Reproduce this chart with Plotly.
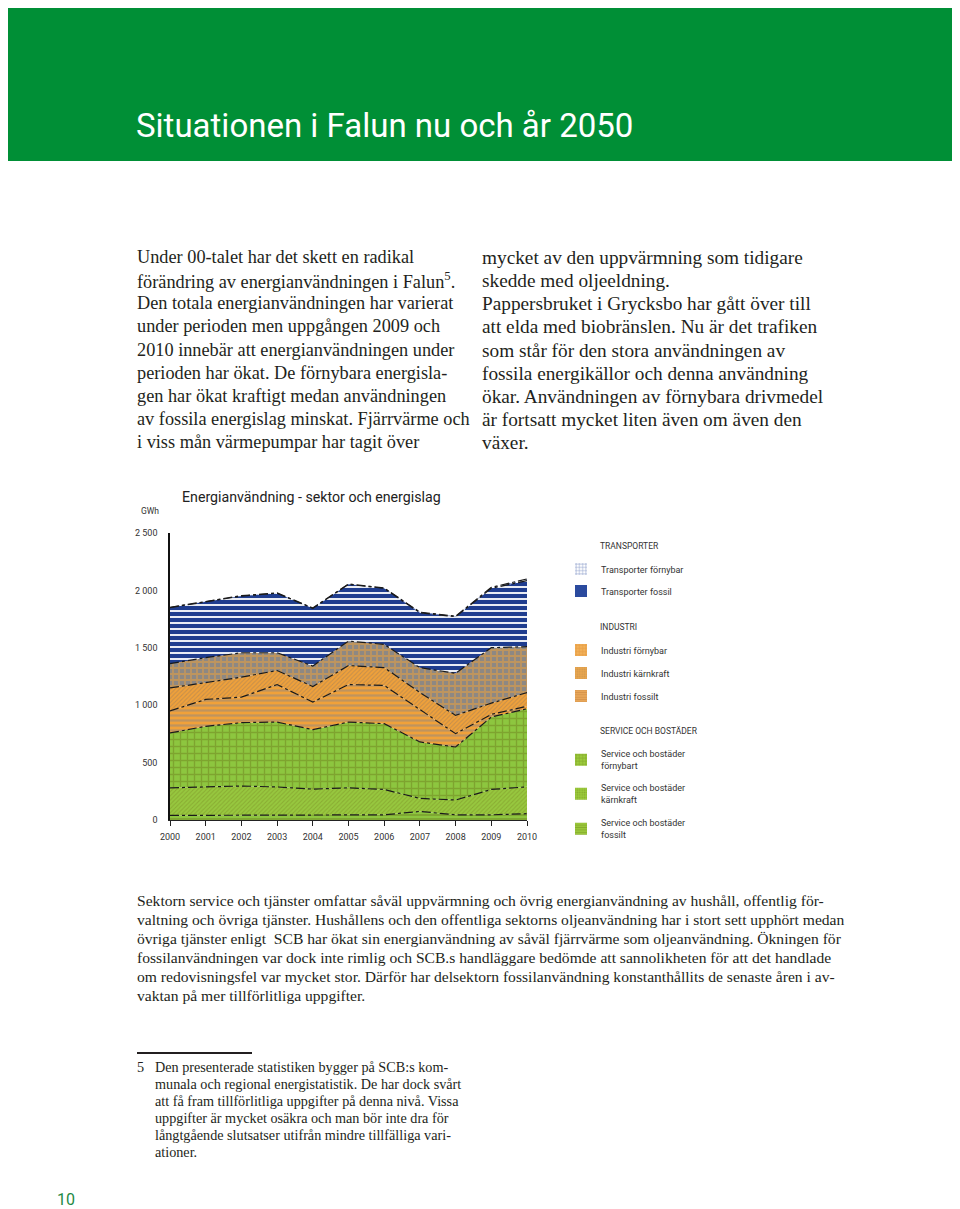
import plotly.graph_objects as go

# ---------------- data ----------------
years = list(range(2000, 2011))
service_fossilt = [40, 40, 40, 40, 45, 45, 45, 75, 45, 45, 55]
service_karnkraft = [240, 249, 256, 248, 224, 235, 221, 113, 129, 221, 234]
service_fornybart = [478, 527, 552, 565, 518, 573, 573, 492, 462, 631, 680]
industri_fossilt = [192, 234, 222, 327, 240, 327, 333, 285, 116, 23, 21]
industri_karnkraft = [200, 150, 174, 122, 136, 165, 156, 145, 159, 98, 120]
industri_fornybar = [212, 214, 213, 155, 178, 214, 202, 217, 367, 483, 400]
transporter_fossil = [488, 488, 494, 518, 503, 494, 488, 479, 493, 517, 575]
transporter_fornybar = [3, 3, 3, 3, 3, 3, 3, 5, 5, 8, 15]

ytick_vals = [0, 500, 1000, 1500, 2000, 2500]
ytick_text = ["0", "500", "1 000", "1 500", "2 000", "2 500"]

# ---------------- styles ----------------
GREEN_BG = "#8dc63f"
GREEN_FG = "#6f8120"
ORANGE = "#f0a13a"
GREY = "#8d8883"
BLUE = "#1f3d8f"

layers = [
    ("Service och bostäder<br>fossilt", service_fossilt,
     dict(shape="-", fgcolor=GREEN_FG, bgcolor=GREEN_BG, size=4, solidity=0.45)),
    ("Service och bostäder<br>kärnkraft", service_karnkraft,
     dict(shape="/", fgcolor="#7d9226", bgcolor="#97c83f", size=3, solidity=0.35)),
    ("Service och bostäder<br>förnybart", service_fornybart,
     dict(shape="+", fgcolor=GREEN_FG, bgcolor=GREEN_BG, size=7, solidity=0.35)),
    ("Industri fossilt", industri_fossilt,
     dict(shape="-", fgcolor=GREY, bgcolor=ORANGE, size=5, solidity=0.45)),
    ("Industri kärnkraft", industri_karnkraft,
     dict(shape="/", fgcolor="#9c7d5c", bgcolor=ORANGE, size=3, solidity=0.35)),
    ("Industri förnybar", industri_fornybar,
     dict(shape="+", fgcolor=ORANGE, bgcolor=GREY, size=6, solidity=0.5)),
    ("Transporter fossil", transporter_fossil,
     dict(shape="-", fgcolor=BLUE, bgcolor="white", size=6, solidity=0.7, fgopacity=1)),
    ("Transporter förnybar", transporter_fornybar,
     dict(shape="+", fgcolor=BLUE, bgcolor="white", size=6, solidity=0.3, fgopacity=1)),
]

fig = go.Figure()
for name, vals, pat in layers:
    fig.add_trace(go.Scatter(
        x=years, y=vals, name=name, stackgroup="one", mode="lines",
        line=dict(color="#1a1a1a", width=1.2, dash="dashdot"),
        fillpattern=pat, fillcolor=pat["bgcolor"], showlegend=False,
        hoverinfo="skip"))

# ---------------- page geometry helpers ----------------
# the page body has an 8px margin, so the figure starts at page (8, 8)
OFF = 8
W, H = 960 - OFF, 1209 - OFF
L, T = 170 - OFF, 533 - OFF
PW, PH = 357, 287
R = W - L - PW
B = H - T - PH


def xp(px):
    return (px - OFF - L) / PW


def yp(py):
    return (T + PH - (py - OFF)) / PH


# ---------------- legend (one legend per entry) ----------------
legend_swatches = [
    ("Transporter förnybar", dict(shape="+", fgcolor="#2b4a9e", bgcolor="white", size=4, solidity=0.35), 569),
    ("Transporter fossil", dict(shape="", fgcolor="#2b4a9e", bgcolor="#2b4a9e", size=4, solidity=0.5), 591),
    ("Industri förnybar", dict(shape="+", fgcolor="#d98a2c", bgcolor="#f2b15a", size=4, solidity=0.4), 650),
    ("Industri kärnkraft", dict(shape=".", fgcolor="#b98a4e", bgcolor="#e9a64e", size=3, solidity=0.4), 673),
    ("Industri fossilt", dict(shape="-", fgcolor="#c07a38", bgcolor="#eaaa5c", size=3, solidity=0.45), 696),
    ("Service och bostäder<br>förnybart", dict(shape="+", fgcolor="#6f8a1e", bgcolor="#9ccc3c", size=4, solidity=0.4), 760),
    ("Service och bostäder<br>kärnkraft", dict(shape=".", fgcolor="#6f8a1e", bgcolor="#9ccc3c", size=3, solidity=0.4), 794),
    ("Service och bostäder<br>fossilt", dict(shape="-", fgcolor="#6f8a1e", bgcolor="#9ccc3c", size=3, solidity=0.45), 829),
]

legend_layouts = {}
for i, (name, pat, cy) in enumerate(legend_swatches):
    key = "legend" if i == 0 else f"legend{i + 1}"
    fig.add_trace(go.Bar(
        x=[None], y=[None], name=name, legend=key, showlegend=True,
        marker=dict(color=pat["bgcolor"], pattern=pat, line=dict(width=0)),
        hoverinfo="skip"))
    legend_layouts[key] = dict(
        x=xp(561), xanchor="left", y=yp(cy), yanchor="middle",
        bgcolor="rgba(0,0,0,0)", borderwidth=0,
        font=dict(family="Roboto, sans-serif", size=9, color="#333333"))

# ---------------- annotations / text ----------------
annotations = []


def ann(text, px, py, size, family="Liberation Serif, serif", color="#231f20",
        xanchor="left", yanchor="middle"):
    annotations.append(dict(
        text=text, x=xp(px), y=yp(py), xref="paper", yref="paper",
        xanchor=xanchor, yanchor=yanchor, showarrow=False,
        font=dict(family=family, size=size, color=color)))


SANS = "Roboto, sans-serif"

ann("Situationen i Falun nu och år 2050", 134, 126, 33, SANS, "white")

left_col = [
    "Under 00-talet har det skett en radikal",
    "förändring av energianvändningen i Falun<sup>5</sup>.",
    "Den totala energianvändningen har varierat",
    "under perioden men uppgången 2009 och",
    "2010 innebär att energianvändningen under",
    "perioden har ökat. De förnybara energisla-",
    "gen har ökat kraftigt medan användningen",
    "av fossila energislag minskat. Fjärrvärme och",
    "i viss mån värmepumpar har tagit över",
]
right_col = [
    "mycket av den uppvärmning som tidigare",
    "skedde med oljeeldning.",
    "Pappersbruket i Grycksbo har gått över till",
    "att elda med biobränslen. Nu är det trafiken",
    "som står för den stora användningen av",
    "fossila energikällor och denna användning",
    "ökar. Användningen av förnybara drivmedel",
    "är fortsatt mycket liten även om även den",
    "växer.",
]
col_y = [257, 280, 303, 326, 350, 373, 396, 419, 442]
for t, y in zip(left_col, col_y):
    ann(t, 135, y, 18.3)
for t, y in zip(right_col, col_y):
    ann(t, 480, y, 19.3)

bottom_par = [
    "Sektorn service och tjänster omfattar såväl uppvärmning och övrig energianvändning av hushåll, offentlig för-",
    "valtning och övriga tjänster. Hushållens och den offentliga sektorns oljeanvändning har i stort sett upphört medan",
    "övriga tjänster enligt  SCB har ökat sin energianvändning av såväl fjärrvärme som oljeanvändning. Ökningen för",
    "fossilanvändningen var dock inte rimlig och SCB.s handläggare bedömde att sannolikheten för att det handlade",
    "om redovisningsfel var mycket stor. Därför har delsektorn fossilanvändning konstanthållits de senaste åren i av-",
    "vaktan på mer tillförlitliga uppgifter.",
]
for t, y in zip(bottom_par, [900, 919, 938, 957, 976, 995]):
    ann(t, 135, y, 15.6)

footnote = [
    "Den presenterade statistiken bygger på SCB:s kom-",
    "munala och regional energistatistik. De har dock svårt",
    "att få fram tillförlitliga uppgifter på denna nivå. Vissa",
    "uppgifter är mycket osäkra och man bör inte dra för",
    "långtgående slutsatser utifrån mindre tillfälliga vari-",
    "ationer.",
]
ann("5", 135, 1067, 14.2)
for t, y in zip(footnote, [1067, 1084, 1101, 1118, 1135, 1152]):
    ann(t, 153, y, 14.2)

ann("10", 66, 1199, 16, SANS, "#1f8a45", xanchor="center")

# chart texts
ann("Energianvändning - sektor och energislag", 180, 497, 14.2, SANS, "#222222")
ann("GWh", 150, 511, 8.5, SANS, "#333333", xanchor="center")
ann("TRANSPORTER", 598, 546, 8.5, SANS, "#333333")
ann("INDUSTRI", 598, 627, 8.5, SANS, "#333333")
ann("SERVICE OCH BOSTÄDER", 598, 731, 8.5, SANS, "#333333")

shapes = [
    dict(type="rect", xref="paper", yref="paper", x0=xp(0), x1=xp(960),
         y0=yp(2), y1=yp(161), fillcolor="#008f36", line=dict(width=0),
         layer="below"),
    dict(type="line", xref="paper", yref="paper", x0=xp(137), x1=xp(252),
         y0=yp(1053), y1=yp(1053), line=dict(color="#231f20", width=2)),
]

fig.update_layout(
    width=W, height=H,
    margin=dict(l=L, r=R, t=T, b=B),
    paper_bgcolor="white", plot_bgcolor="white",
    showlegend=True,
    annotations=annotations, shapes=shapes,
    xaxis=dict(range=[2000, 2010], tickvals=years, showline=True,
               linecolor="#222222", linewidth=1, ticks="outside", ticklen=5,
               tickcolor="#222222", showgrid=False, zeroline=False,
               ticklabelstandoff=3,
               tickfont=dict(family=SANS, size=9, color="#333333")),
    yaxis=dict(range=[0, 2500], tickvals=ytick_vals, ticktext=ytick_text,
               showline=True, linecolor="#111111", linewidth=1.5, ticks="",
               showgrid=False, zeroline=False, ticklabelstandoff=9,
               tickfont=dict(family=SANS, size=9, color="#333333")),
    **legend_layouts,
)

fig.write_html("out.html")
